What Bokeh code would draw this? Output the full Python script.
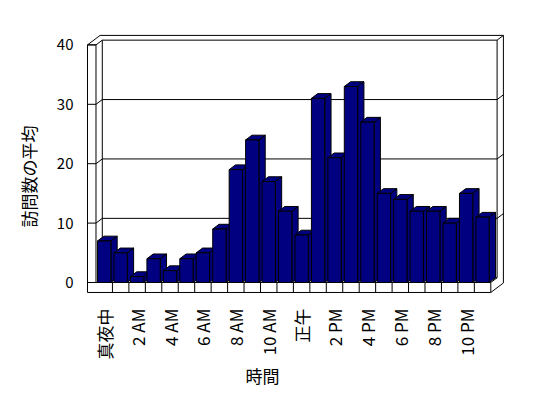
import math
from bokeh.plotting import figure
from bokeh.models import FixedTicker, Range1d, ColumnDataSource, Title
from bokeh.embed import file_html
from bokeh.resources import INLINE

# ---- data ----
hours = list(range(24))
visits = [7, 5, 1, 4, 2, 4, 5, 9, 19, 24, 17, 12, 8, 31, 21, 33, 27, 15, 14, 12, 12, 10, 15, 11]
tick_positions = [0, 2, 4, 6, 8, 10, 12, 14, 16, 18, 20, 22]
tick_labels = ["真夜中", "2 AM", "4 AM", "6 AM", "8 AM", "10 AM",
               "正午", "2 PM", "4 PM", "6 PM", "8 PM", "10 PM"]
y_ticks = [0, 10, 20, 30, 40]
x_title = "時間"
y_title = "訪問数の平均"

FONT = "Noto Sans CJK JP"
NAVY = "#000080"

# pseudo-3D geometry (data units)
DX = 0.383      # depth shift in x (categories)
DY = 0.8        # depth shift in y (values)
HALF = 0.405    # half width of a bar front face
TOP = 40.0
I = -0.5                    # first category edge
R = len(hours) - 0.5        # last category edge
L = -1.017                  # left wall outer edge
FB = -1.68                  # floor bottom

p = figure(frame_width=420, frame_height=260,
           x_range=Range1d(-1.138, 24.394), y_range=Range1d(-1.852, 41.92),
           output_backend="svg", toolbar_location=None,
           min_border_left=83, min_border_top=33, min_border_right=12, min_border_bottom=100)
p.outline_line_color = None
p.xgrid.grid_line_color = None
p.ygrid.grid_line_color = None
p.background_fill_color = "white"

# outer silhouette of the box
p.patch([L, R, R + 2 * DX, R + 2 * DX, L + 2 * DX, L],
        [FB, FB, FB + 2 * DY, TOP + 2 * DY, TOP + 2 * DY, TOP],
        fill_color="white", line_color="black", line_width=1)
# back wall front face
p.quad(left=[I + DX], right=[R + DX], bottom=[DY], top=[TOP + DY],
       fill_color="white", line_color="black", line_width=1)

xs, ys = [], []
def seg(x0, y0, x1, y1):
    xs.append([x0, x1]); ys.append([y0, y1])

seg(I, 0, I, TOP)                       # left wall inner edge
seg(L, TOP, I, TOP)                     # left wall top front
seg(I, TOP, I + DX, TOP + DY)           # left wall top diagonal
seg(R + DX, TOP + DY, R + 2 * DX, TOP + 2 * DY)
seg(I, 0, R, 0)                         # floor front top edge
seg(R, FB, R, 0)                        # floor right front
seg(R, 0, R + DX, DY)                   # floor right diagonal
for v in y_ticks[1:-1]:
    seg(I + DX, v + DY, R + DX, v + DY)     # back wall gridline
    seg(I, v, I + DX, v + DY)
    seg(R + DX, v + DY, R + 2 * DX, v + 2 * DY)
for v in y_ticks:
    seg(L, v, I, v)                         # ticks on the wall face
for k in hours[:-1]:
    seg(k + 0.5, FB, k + 0.5, 0)            # floor divisions
p.multi_line(xs, ys, line_color="black", line_width=1)

# ---- bars ----
lefts = [h - HALF for h in hours]
rights = [h + HALF for h in hours]
src = ColumnDataSource(dict(
    left=lefts, right=rights, top=visits, bottom=[0] * len(hours),
    sx=[[r, r + DX, r + DX, r] for r in rights],
    sy=[[0, DY, v + DY, v] for v in visits],
    tx=[[l, r, r + DX, l + DX] for l, r in zip(lefts, rights)],
    ty=[[v, v, v + DY, v + DY] for v in visits],
))
p.patches("sx", "sy", source=src, fill_color=NAVY, line_color="black", line_width=1)
p.patches("tx", "ty", source=src, fill_color=NAVY, line_color="black", line_width=1)
p.quad(left="left", right="right", bottom="bottom", top="top", source=src,
       fill_color=NAVY, line_color="black", line_width=1)

# ---- axes ----
xa = p.xaxis[0]
xa.ticker = FixedTicker(ticks=tick_positions)
xa.major_label_overrides = {t: s for t, s in zip(tick_positions, tick_labels)}
xa.major_label_orientation = math.pi / 2
xa.axis_line_color = None
xa.major_tick_line_color = None
xa.minor_tick_line_color = None
xa.major_label_standoff = 9
xa.major_label_text_font = FONT
xa.major_label_text_font_size = "17px"
xa.major_label_text_color = "black"

ya = p.yaxis[0]
ya.ticker = FixedTicker(ticks=y_ticks)
ya.axis_line_color = None
ya.major_tick_line_color = None
ya.minor_tick_line_color = None
ya.major_label_standoff = 6
ya.major_label_text_font = FONT
ya.major_label_text_font_size = "15px"
ya.major_label_text_color = "black"

p.add_layout(Title(text=x_title, align="left", offset=160, standoff=-4,
                   text_font=FONT, text_font_size="17px", text_font_style="normal",
                   text_color="black"), "below")
p.add_layout(Title(text=y_title, align="left", offset=66, standoff=26,
                   text_font=FONT, text_font_size="17px", text_font_style="normal",
                   text_color="black"), "left")

open("out.html", "w").write(file_html(p, INLINE))
